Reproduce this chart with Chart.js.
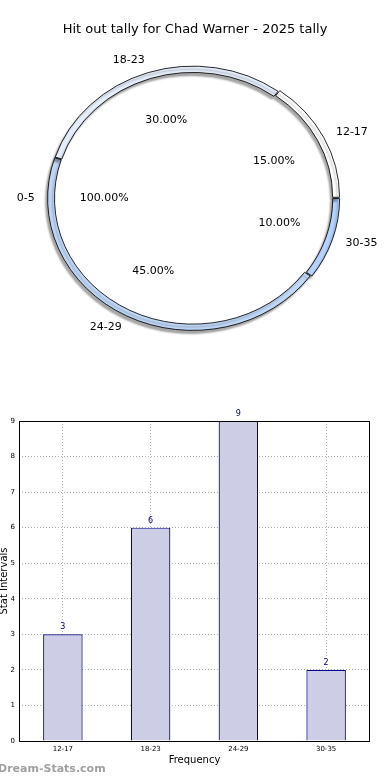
<!DOCTYPE html>
<html>
<head>
<meta charset="utf-8">
<script src="https://cdn.jsdelivr.net/npm/chart.js@4/dist/chart.umd.min.js"></script>
<style>
    body { margin: 0; background: #fff; }
    #pieBox { position: absolute; left: 0; top: 0; width: 390px; height: 380px; }
    #barBox { position: absolute; left: 0; top: 380px; width: 390px; height: 400px; }
    #mark { position: absolute; left: -2px; top: 762px; font: bold 11px "DejaVu Sans"; color: #a0a0a0; }
</style>
</head>
<body>
<div id="pieBox"><canvas id="pie"></canvas></div>
<div id="barBox"><canvas id="bar"></canvas></div>
<div id="mark">Dream-Stats.com</div>
<script>
var title = "Hit out tally for Chad Warner - 2025 tally";
var categories = ["12-17", "18-23", "24-29", "30-35"];
var values = [3, 6, 9, 2];
var innerCategories = ["0-5"];
var innerValues = [1];
var sliceColors = ["#ffffff", "#e6eefc", "#c0d8f8", "#b5d3ff"];
var yTicks = [0, 1, 2, 3, 4, 5, 6, 7, 8, 9];

var font = "DejaVu Sans";
var stretchX = 1.1;

// matplotlib goes counter-clockwise from 3 o'clock, chart.js clockwise -> reverse
var pieLabels = categories.slice().reverse();
var pieValues = values.slice().reverse();
var pieColors = sliceColors.slice().reverse();

function percent(list, i) {
    var total = list.reduce(function (a, b) { return a + b; }, 0);
    return (list[i] / total * 100).toFixed(2) + "%";
}

var stretchPlugin = {
    id: "stretch",
    beforeDatasetsDraw: function (chart) {
        var arc = chart.getDatasetMeta(0).data[0];
        var ctx = chart.ctx;
        ctx.save();
        ctx.translate(arc.x, arc.y);
        ctx.scale(stretchX, 1);
        ctx.translate(-arc.x, -arc.y);
        ctx.shadowColor = "rgba(0,0,0,0.35)";
        ctx.shadowOffsetX = -2;
        ctx.shadowOffsetY = 3;
        ctx.shadowBlur = 2;
    },
    afterDatasetsDraw: function (chart) {
        chart.ctx.restore();
        var ctx = chart.ctx;
        var outer = chart.getDatasetMeta(0).data;
        var cx = outer[0].x + 1, cy = outer[0].y, R = outer[0].outerRadius;
        ctx.save();
        ctx.fillStyle = "#000";
        ctx.font = "13px " + font;
        ctx.textAlign = "center";
        ctx.textBaseline = "middle";
        ctx.fillText(title, 195, 30);
        ctx.font = "11px " + font;
        var sets = [
            { arcs: outer, labels: pieLabels, vals: pieValues },
            { arcs: chart.getDatasetMeta(1).data, labels: innerCategories, vals: innerValues }
        ];
        sets.forEach(function (s) {
            s.arcs.forEach(function (a, i) {
                var mid = (a.startAngle + a.endAngle) / 2;
                var c = Math.cos(mid), sn = Math.sin(mid);
                ctx.textAlign = c > 0.01 ? "left" : (c < -0.01 ? "right" : "center");
                ctx.fillText(s.labels[i], cx + c * R * 1.1 * stretchX, cy + sn * R * 1.1);
                ctx.textAlign = "center";
                ctx.fillText(percent(s.vals, i), cx + c * R * 0.62 * stretchX, cy + sn * R * 0.62);
            });
        });
        ctx.restore();
    }
};

new Chart(document.getElementById("pie"), {
    type: "pie",
    data: {
        labels: pieLabels,
        datasets: [{
            data: pieValues,
            backgroundColor: pieColors,
            borderColor: "#000",
            borderWidth: 0.8,
            hoverBorderWidth: 0.8,
            offset: [5, 2, 1, 6],
            hoverOffset: 0,
            weight: 1
        }, {
            data: innerValues,
            backgroundColor: "#ffffff",
            borderWidth: 0,
            hoverBorderWidth: 0,
            weight: 20
        }]
    },
    options: {
        responsive: true,
        maintainAspectRatio: false,
        animation: false,
        events: [],
        rotation: 90,
        layout: { padding: { left: 43, right: 47, top: 63, bottom: 47 } },
        plugins: { legend: { display: false }, tooltip: { enabled: false } }
    },
    plugins: [stretchPlugin]
});

var barExtras = {
    id: "barExtras",
    afterDraw: function (chart) {
        var ctx = chart.ctx;
        var area = chart.chartArea;
        ctx.save();
        ctx.strokeStyle = "#000";
        ctx.lineWidth = 1;
        ctx.strokeRect(area.left + 0.5, area.top + 0.5, area.right - area.left - 1, area.bottom - area.top);
        ctx.fillStyle = "#000080";
        ctx.font = "8px " + font;
        ctx.textAlign = "center";
        ctx.textBaseline = "bottom";
        chart.getDatasetMeta(0).data.forEach(function (bar, i) {
            ctx.fillText(values[i], bar.x, bar.y - 3);
        });
        ctx.restore();
    }
};

new Chart(document.getElementById("bar"), {
    type: "bar",
    data: {
        labels: categories,
        datasets: [{
            data: values,
            backgroundColor: "rgb(205,206,230)",
            borderColor: "#00008b",
            borderWidth: 1.2,
            barPercentage: 0.45,
            categoryPercentage: 1
        }]
    },
    options: {
        responsive: true,
        maintainAspectRatio: false,
        animation: false,
        events: [],
        layout: { padding: { top: 41, right: 20, left: 0, bottom: 0 } },
        plugins: { legend: { display: false }, tooltip: { enabled: false } },
        scales: {
            x: {
                z: 1,
                grid: { offset: false, color: "#b0b0b0", drawTicks: false },
                border: { display: false, dash: [1, 2] },
                ticks: { color: "#000", font: { family: font, size: 7 }, padding: 4 },
                title: { display: true, text: "Frequency", color: "#000", font: { family: font, size: 10 }, padding: { top: 0, bottom: 14 } },
                afterFit: function (scale) { scale.height = 39; }
            },
            y: {
                z: 1,
                min: yTicks[0],
                max: yTicks[yTicks.length - 1],
                grid: { color: "#b0b0b0", drawTicks: false },
                border: { display: false, dash: [1, 2] },
                ticks: { stepSize: 1, color: "#000", font: { family: font, size: 7 }, padding: 4 },
                title: { display: true, text: "Stat Intervals", color: "#000", font: { family: font, size: 10 }, padding: { top: -2, bottom: 0 } },
                afterFit: function (scale) { scale.width = 19; }
            }
        }
    },
    plugins: [barExtras]
});
</script>
</body>
</html>
